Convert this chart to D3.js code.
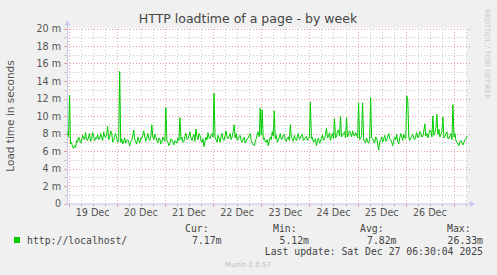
<!DOCTYPE html>
<html>
<head>
<meta charset="utf-8">
<script src="https://cdn.jsdelivr.net/npm/d3@7"></script>
<style>
  html, body { margin: 0; padding: 0; background: #f0f0f0; }
  svg { display: block; }
  text { font-family: "DejaVu Sans", sans-serif; }
  .mono { font-family: "DejaVu Sans Mono", monospace; }
</style>
</head>
<body>
<div id="chart"></div>
<script>
// Load time samples (ms), one per 30 min from Dec 18 23:30 to Dec 27 06:30 UTC
const loadTimes = [
  8.2, 7.6, 12.4, 6.8, 7.0, 6.5, 6.3, 6.6, 6.4, 7.2, 7.0, 7.6, 7.4, 6.9, 7.1, 7.8, 7.5, 7.3, 8.1, 7.4,
  7.2, 7.6, 8.0, 7.1, 7.3, 8.1, 7.7, 7.2, 7.5, 7.4, 7.9, 7.3, 7.4, 8.0, 7.6, 7.2, 8.2, 7.7, 7.5, 7.9,
  8.8, 7.3, 7.6, 8.3, 8.1, 7.0, 7.2, 7.8, 8.0, 7.4, 7.0, 7.3, 15.1, 7.0, 7.4, 6.8, 7.1, 7.5, 6.9, 7.2,
  7.3, 7.0, 6.6, 7.1, 7.2, 7.7, 8.4, 7.3, 7.0, 6.8, 7.6, 7.2, 6.9, 7.5, 7.4, 7.8, 8.3, 7.6, 7.1, 7.5,
  8.0, 7.4, 7.2, 7.7, 9.0, 7.6, 7.3, 7.9, 7.6, 7.2, 6.9, 7.5, 7.4, 6.8, 7.0, 7.6, 7.3, 7.1, 10.95, 7.2,
  7.0, 6.6, 6.8, 7.4, 7.3, 7.0, 6.7, 7.2, 7.1, 6.9, 7.5, 7.2, 9.8, 7.3, 7.6, 7.0, 7.1, 7.7, 8.0, 7.3,
  7.4, 7.8, 8.2, 7.5, 7.2, 7.6, 7.9, 7.1, 8.5, 7.7, 7.3, 8.0, 7.8, 7.2, 7.0, 7.4, 6.5, 7.1, 7.6, 7.3,
  8.1, 7.5, 7.4, 7.9, 8.0, 7.6, 12.6, 7.5, 7.3, 7.0, 7.8, 7.4, 7.0, 7.7, 8.0, 7.3, 7.2, 7.8, 8.3, 7.5,
  7.4, 7.7, 8.0, 7.3, 7.6, 8.2, 9.0, 7.5, 8.0, 7.2, 7.3, 7.7, 7.8, 7.2, 7.0, 7.4, 7.6, 6.9, 7.1, 7.4,
  7.5, 7.8, 8.0, 7.2, 6.9, 6.7, 6.6, 7.0, 7.4, 7.9, 8.2, 7.6, 10.9, 7.8, 10.7, 7.3, 7.5, 7.1, 7.0, 7.3,
  6.6, 7.1, 7.6, 7.3, 8.2, 7.7, 10.6, 7.4, 7.8, 7.0, 7.2, 7.6, 8.0, 7.3, 7.4, 7.8, 7.9, 7.2, 7.1, 7.5,
  7.6, 7.2, 9.0, 7.6, 7.4, 7.1, 7.8, 7.4, 7.2, 7.7, 8.0, 7.3, 7.5, 7.8, 7.9, 7.2, 7.3, 7.6, 7.7, 7.2,
  7.4, 7.6, 11.6, 7.4, 7.6, 7.0, 7.1, 7.4, 6.6, 7.2, 7.5, 6.9, 7.0, 7.6, 7.8, 7.2, 7.3, 7.9, 8.6, 7.5,
  7.6, 8.1, 7.2, 7.7, 8.0, 7.4, 9.7, 7.5, 7.6, 8.3, 8.4, 7.7, 10.0, 7.6, 7.8, 8.0, 8.2, 7.5, 9.8, 7.6,
  7.9, 8.3, 8.0, 7.6, 8.3, 7.8, 7.7, 8.1, 7.9, 7.5, 11.5, 7.3, 7.4, 7.8, 11.5, 7.2, 7.2, 6.9, 7.5, 7.1,
  6.9, 7.3, 12.1, 7.5, 7.4, 7.1, 6.9, 7.6, 7.5, 6.8, 6.1, 7.0, 7.3, 7.6, 7.0, 7.4, 7.8, 7.1, 7.2, 7.7,
  8.0, 7.4, 7.3, 7.0, 6.6, 7.2, 7.6, 7.3, 7.9, 7.1, 6.8, 7.5, 8.0, 7.6, 7.2, 7.9, 7.6, 7.4, 12.3, 11.8,
  7.6, 7.2, 7.5, 7.8, 7.9, 7.4, 7.3, 7.7, 8.1, 7.5, 7.6, 8.2, 8.0, 7.6, 7.7, 8.3, 9.1, 7.7, 8.0, 7.5,
  7.9, 8.4, 8.3, 7.6, 10.0, 7.8, 8.1, 8.6, 10.2, 7.9, 8.5, 7.6, 7.9, 8.2, 9.9, 7.5, 7.7, 8.0, 8.2, 7.4,
  7.4, 7.8, 8.0, 7.3, 11.3, 7.6, 8.0, 7.2, 7.0, 6.8, 6.6, 7.1, 7.2, 6.9, 6.7, 7.0, 7.3, 7.4, 7.7
];
const firstSample = Date.UTC(2025, 11, 18, 23, 30);
const stepMs = 30 * 60 * 1000;

const yTicks = [0, 2, 4, 6, 8, 10, 12, 14, 16, 18, 20];
const legendHeaders = ["Cur:", "Min:", "Avg:", "Max:"];
const legendValues = ["7.17m", "5.12m", "7.82m", "26.33m"];
const seriesName = "http://localhost/";

const width = 497, height = 275;
const plot = { left: 67, right: 467, top: 28.5, bottom: 203.5 };

const svg = d3.select("#chart").append("svg")
  .attr("width", width)
  .attr("height", height);

svg.append("rect").attr("width", width).attr("height", height).attr("fill", "#f0f0f0");
svg.append("rect")
  .attr("x", plot.left).attr("y", plot.top)
  .attr("width", plot.right - plot.left).attr("height", plot.bottom - plot.top)
  .attr("fill", "#ffffff");

const x = d3.scaleUtc()
  .domain([Date.UTC(2025, 11, 18, 23, 15), Date.UTC(2025, 11, 27, 6, 30)])
  .range([plot.left, plot.right]);
const y = d3.scaleLinear().domain([0, 20]).range([plot.bottom, plot.top]);

// grid
const minorX = d3.utcHour.every(6).range(...x.domain());
const majorX = d3.utcDay.range(...x.domain());
const minorY = d3.range(1, 20, 2);

const grid = svg.append("g").attr("shape-rendering", "crispEdges");
grid.selectAll(".mx").data(minorX.filter(d => d.getUTCHours() !== 0)).enter().append("line")
  .attr("x1", d => Math.round(x(d)) + 0.5).attr("x2", d => Math.round(x(d)) + 0.5)
  .attr("y1", plot.top).attr("y2", plot.bottom)
  .attr("stroke", "#c8c8c8").attr("stroke-dasharray", "1,2");
grid.selectAll(".my").data(minorY).enter().append("line")
  .attr("x1", plot.left).attr("x2", plot.right)
  .attr("y1", d => Math.round(y(d)) + 0.5).attr("y2", d => Math.round(y(d)) + 0.5)
  .attr("stroke", "#c8c8c8").attr("stroke-dasharray", "1,2");
grid.selectAll(".Mx").data(majorX).enter().append("line")
  .attr("x1", d => Math.round(x(d)) + 0.5).attr("x2", d => Math.round(x(d)) + 0.5)
  .attr("y1", plot.top).attr("y2", plot.bottom)
  .attr("stroke", "#e8a0a0").attr("stroke-dasharray", "1,2");
grid.selectAll(".My").data(yTicks.filter(d => d > 0)).enter().append("line")
  .attr("x1", plot.left).attr("x2", plot.right + 3)
  .attr("y1", d => Math.round(y(d)) + 0.5).attr("y2", d => Math.round(y(d)) + 0.5)
  .attr("stroke", "#e8a0a0").attr("stroke-dasharray", "1,2");

// tick marks
grid.selectAll(".ty").data(d3.range(0, 21)).enter().append("line")
  .attr("x1", plot.left).attr("x2", plot.left - 3)
  .attr("y1", d => Math.round(y(d)) + 0.5).attr("y2", d => Math.round(y(d)) + 0.5)
  .attr("stroke", d => d % 2 === 0 ? "#e8a0a0" : "#c8c8c8");
grid.selectAll(".tx").data(minorX).enter().append("line")
  .attr("x1", d => Math.round(x(d)) + 0.5).attr("x2", d => Math.round(x(d)) + 0.5)
  .attr("y1", plot.bottom).attr("y2", plot.bottom + 3)
  .attr("stroke", d => d.getUTCHours() === 0 ? "#e8a0a0" : "#c8c8c8");

// axes with arrows
const axisColor = "#c8c8f0";
svg.append("line").attr("x1", plot.left + 0.5).attr("x2", plot.left + 0.5)
  .attr("y1", plot.bottom + 1).attr("y2", plot.top - 4).attr("stroke", axisColor);
svg.append("line").attr("x1", plot.left - 1).attr("x2", plot.right + 4)
  .attr("y1", plot.bottom + 0.5).attr("y2", plot.bottom + 0.5).attr("stroke", axisColor);
svg.append("path")
  .attr("d", `M${plot.left - 2.5},${plot.top - 3} L${plot.left + 3.5},${plot.top - 3} L${plot.left + 0.5},${plot.top - 8} Z`)
  .attr("fill", axisColor);
svg.append("path")
  .attr("d", `M${plot.right + 3},${plot.bottom - 2.5} L${plot.right + 3},${plot.bottom + 3.5} L${plot.right + 8},${plot.bottom + 0.5} Z`)
  .attr("fill", axisColor);

// y labels
svg.selectAll(".yl").data(yTicks).enter().append("text")
  .attr("x", 61).attr("y", d => y(d) + 3.5)
  .attr("text-anchor", "end").attr("font-size", "9.6px").attr("fill", "#555")
  .text(d => d === 0 ? "0" : `${d} m`);

// x labels at noon
const noons = majorX.map(d => d3.utcHour.offset(d, 12)).filter(d => x(d) < plot.right);
svg.selectAll(".xl").data(noons).enter().append("text")
  .attr("x", d => x(d)).attr("y", 216)
  .attr("text-anchor", "middle").attr("font-size", "9.6px").attr("fill", "#555")
  .text(d => d3.utcFormat("%-d %b")(d));

// series
const samples = loadTimes.map((v, i) => ({ t: new Date(firstSample + i * stepMs), v }));
const line = d3.line().x(d => x(d.t)).y(d => y(d.v));
svg.append("path").datum(samples)
  .attr("d", line).attr("fill", "none")
  .attr("stroke", "#00cc00").attr("stroke-width", 1);

// titles
svg.append("text").attr("x", 248).attr("y", 23)
  .attr("text-anchor", "middle").attr("font-size", "12.5px").attr("fill", "#444")
  .text("HTTP loadtime of a page - by week");
svg.append("text")
  .attr("transform", "translate(14,116) rotate(-90)")
  .attr("text-anchor", "middle").attr("font-size", "10.5px").attr("fill", "#555")
  .text("Load time in seconds");
svg.append("text")
  .attr("transform", "translate(485,54) rotate(90)")
  .attr("text-anchor", "middle").attr("font-size", "7px").attr("fill", "#c8c8c8")
  .text("RRDTOOL / TOBI OETIKER");

// legend
const legend = svg.append("g").attr("class", "mono").attr("font-size", "9.8px").attr("fill", "#444");
const headerX = [185, 273, 360, 447];
const valueRight = [221.5, 309, 396.5, 483];
legend.selectAll(".lh").data(legendHeaders).enter().append("text")
  .attr("class", "mono").attr("x", (d, i) => headerX[i]).attr("y", 231.5).text(d => d);
legend.selectAll(".lv").data(legendValues).enter().append("text")
  .attr("class", "mono").attr("x", (d, i) => valueRight[i]).attr("y", 243.5)
  .attr("text-anchor", "end").text(d => d);
legend.append("rect").attr("x", 14).attr("y", 237).attr("width", 6).attr("height", 6).attr("fill", "#00cc00");
legend.append("text").attr("class", "mono").attr("x", 27).attr("y", 243.5).text(seriesName);
legend.append("text").attr("class", "mono").attr("x", 483).attr("y", 254.5)
  .attr("text-anchor", "end").text("Last update: Sat Dec 27 06:30:04 2025");

svg.append("text").attr("x", 248).attr("y", 267)
  .attr("text-anchor", "middle").attr("font-size", "7px").attr("fill", "#bbb")
  .text("Munin 2.0.57");
</script>
</body>
</html>
